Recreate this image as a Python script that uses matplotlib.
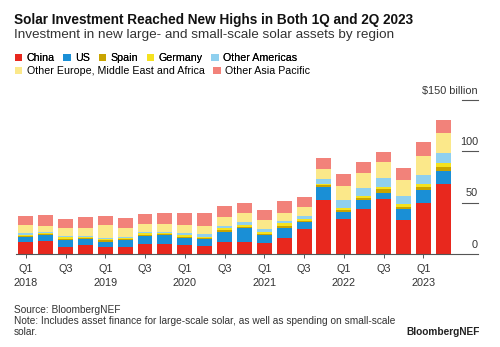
import matplotlib
matplotlib.use("Agg")
import matplotlib.pyplot as plt
import matplotlib.transforms as mtransforms
import numpy as np

plt.rcParams['font.family'] = ['Liberation Sans', 'DejaVu Sans']

# quarters Q1 2018 .. Q2 2023
quarters = ['Q1\n2018', '', 'Q3', '', 'Q1\n2019', '', 'Q3', '', 'Q1\n2020', '', 'Q3', '',
            'Q1\n2021', '', 'Q3', '', 'Q1\n2022', '', 'Q3', '', 'Q1\n2023', '']

china = [11.3, 13.0, 7.0, 8.7, 6.5, 6.5, 9.7, 9.7, 8.7, 8.1, 11.3, 11.3, 10.4, 15.2, 24.0,
         52.5, 33.7, 43.7, 53.0, 33.0, 49.2, 67.7]
us = [5.5, 5.5, 6.6, 5.5, 5.5, 6.8, 7.8, 8.8, 6.5, 6.2, 10.4, 13.7, 8.1, 10.4, 6.8,
      12.9, 6.8, 8.8, 6.6, 10.4, 13.0, 13.0]
spain = [0.8, 0.6, 1.0, 1.2, 1.2, 1.2, 1.0, 1.0, 1.5, 1.2, 1.5, 1.4, 1.4, 2.0, 1.2,
         1.2, 2.2, 2.2, 3.2, 2.6, 2.6, 4.2]
germany = [1.2, 1.0, 1.6, 1.6, 1.5, 1.5, 1.5, 1.4, 1.8, 1.3, 1.8, 1.8, 1.8, 2.2, 1.7,
           1.4, 2.3, 2.0, 2.6, 2.6, 3.2, 3.1]
other_americas = [1.5, 1.1, 1.6, 0.8, 0.5, 0.8, 1.0, 0.8, 2.2, 2.2, 2.2, 2.6, 2.3, 2.2, 3.3,
                  4.6, 7.5, 7.1, 8.1, 7.8, 8.8, 9.8]
other_emea = [8.0, 5.9, 7.2, 7.2, 13.0, 8.2, 8.0, 7.3, 7.5, 8.2, 9.1, 8.7, 9.0, 7.5, 9.0,
              10.0, 13.5, 14.6, 16.2, 15.6, 18.4, 19.5]
other_apac = [9.0, 10.4, 9.0, 10.6, 8.8, 9.7, 9.9, 11.2, 12.0, 12.3, 10.3, 10.4, 9.8, 12.0, 9.0,
              10.4, 11.4, 10.6, 9.7, 11.9, 14.0, 12.9]

names = ['China', 'US', 'Spain', 'Germany', 'Other Americas',
         'Other Europe, Middle East and Africa', 'Other Asia Pacific']
series = [china, us, spain, germany, other_americas, other_emea, other_apac]
colors = ['#e8281e', '#1a8fd6', '#c9a400', '#f5e21f', '#8fd0ef', '#fbe88a', '#f2827a']

fig = plt.figure(figsize=(5.0, 3.47), dpi=100)
ax = fig.add_axes([16 / 500, 93 / 347, 462 / 500, 154.3 / 347])

x = np.arange(len(quarters))
bottom = np.zeros(len(x))
bars = []
for vals, c, n in zip(series, colors, names):
    b = ax.bar(x, vals, width=0.75, bottom=bottom, color=c, label=n, linewidth=0)
    bars.append(b)
    bottom += np.array(vals)

ax.set_xlim(-0.49, 22.75)
ax.set_ylim(0, 150)
for s in ['top', 'right', 'left']:
    ax.spines[s].set_visible(False)
ax.spines['bottom'].set_color('#555555')
ax.spines['bottom'].set_linewidth(0.8)
ax.set_yticks([])
ax.set_xticks(x[::2])
ax.set_xticklabels(quarters[::2], fontsize=7.8, color='#333333', linespacing=1.5)
ax.tick_params(axis='x', length=3, color='#555555', width=0.7, pad=4)

# right side value labels with short rules
trans = mtransforms.blended_transform_factory(ax.transAxes, ax.transData)
ylabels = ['0', '50', '100', '$150 billion']
for v, lab in zip([0, 50, 100, 150], ylabels):
    if v > 0:
        ax.plot([0.965, 1.0], [v, v], color='#555555', lw=0.8, transform=trans, clip_on=False)
    ax.text(1.0, v + 4, lab, ha='right', va='bottom', fontsize=7.8, color='#333333',
            transform=trans)

fig.text(14 / 500, 1 - 20 / 347, 'Solar Investment Reached New Highs in Both 1Q and 2Q 2023',
         fontsize=9.8, fontweight='bold', va='center', color='#111111')
fig.text(14 / 500, 1 - 35 / 347, 'Investment in new large- and small-scale solar assets by region',
         fontsize=9.7, va='center', color='#333333')

leg_kw = dict(loc='center left', frameon=False, fontsize=7.7, handlelength=0.7,
              handleheight=0.7, handletextpad=0.4, columnspacing=0.8,
              borderpad=0, borderaxespad=0)
leg1 = fig.legend(handles=bars[:5], labels=names[:5],
                  bbox_to_anchor=(15 / 500, 1 - 58 / 347), ncol=5, **leg_kw)
fig.add_artist(leg1)
fig.legend(handles=bars[5:], labels=names[5:],
           bbox_to_anchor=(15 / 500, 1 - 71 / 347), ncol=2, **leg_kw)

fig.text(14 / 500, 1 - 310 / 347, 'Source: BloombergNEF', fontsize=7.3, va='center', color='#333333')
fig.text(14 / 500, 1 - 321 / 347,
         'Note: Includes asset finance for large-scale solar, as well as spending on small-scale',
         fontsize=7.3, va='center', color='#333333')
fig.text(14 / 500, 1 - 332 / 347, 'solar.', fontsize=7.3, va='center', color='#333333')
fig.text(480 / 500, 1 - 332 / 347, 'BloombergNEF', fontsize=7.3, fontweight='bold',
         ha='right', va='center', color='#222222')

fig.savefig('out.png', dpi=100, facecolor='white')
